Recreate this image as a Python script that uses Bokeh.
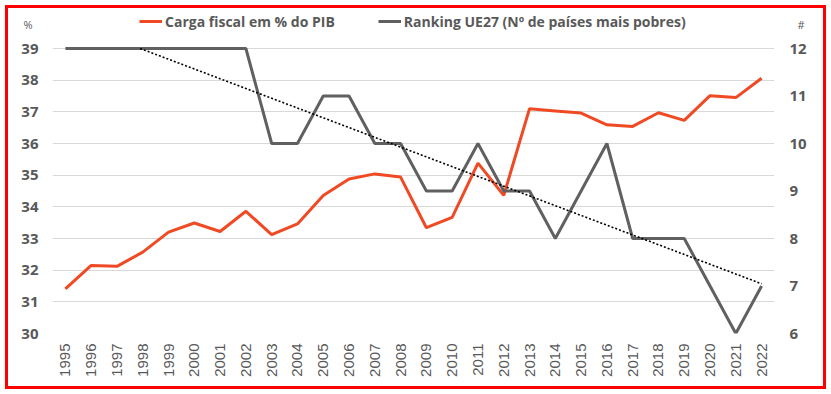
import numpy as np
from bokeh.plotting import figure
from bokeh.models import Range1d, LinearAxis, FixedTicker, Legend, LegendItem
from bokeh.embed import file_html
from bokeh.resources import INLINE

years = list(range(1995, 2023))
carga = [31.41, 32.15, 32.12, 32.57, 33.20, 33.49, 33.22, 33.86, 33.12, 33.46,
         34.36, 34.88, 35.04, 34.94, 33.34, 33.67, 35.38, 34.36, 37.10, 37.03,
         36.96, 36.59, 36.54, 36.97, 36.73, 37.51, 37.45, 38.06]
ranking = [12, 12, 12, 12, 12, 12, 12, 12, 10, 10, 11, 11, 10, 10, 9, 9, 10, 9,
           9, 8, 9, 10, 8, 8, 8, 7, 6, 7]
left_ticks = list(range(30, 40))
right_ticks = list(range(6, 13))
left_unit = "%"
right_unit = "#"
series_names = ["Carga fiscal em % do PIB", "Ranking UE27 (Nº de países mais pobres)"]

RED = "#F04A25"
GRAY = "#606060"
TXT = "#595959"

W, H = 831, 394
FL, FR, FT, FB = 52, 774, 9, 333      # frame edges (px)
AX_TOP = 48                           # pixel of the top tick (39 / 12)
UNIT_Y = 24                           # pixel row of the unit labels

# extend the value ranges above the top tick so that the legend fits in the frame
lpp = (left_ticks[-1] - left_ticks[0]) / (FB - AX_TOP)
rpp = (right_ticks[-1] - right_ticks[0]) / (FB - AX_TOP)
left_top = left_ticks[-1] + (AX_TOP - FT) * lpp
right_top = right_ticks[-1] + (AX_TOP - FT) * rpp
unit_left_pos = left_ticks[-1] + (AX_TOP - UNIT_Y) * lpp
unit_right_pos = right_ticks[-1] + (AX_TOP - UNIT_Y) * rpp

p = figure(width=W, height=H, output_backend="svg", toolbar_location=None,
           x_range=Range1d(years[0] - 0.5, years[-1] + 0.5),
           y_range=Range1d(left_ticks[0], left_top),
           min_border_left=FL, min_border_right=W - FR, min_border_top=FT,
           min_border_bottom=H - FB)
p.extra_y_ranges = {"rank": Range1d(right_ticks[0], right_top)}
p.outline_line_color = None
p.background_fill_color = "white"
p.border_fill_color = None
p.styles = {"outline": "3px solid #FF0000", "outline-offset": "-8px"}

# grid
p.xgrid.visible = False
p.ygrid.ticker = FixedTicker(ticks=left_ticks)
p.ygrid.grid_line_color = "#D9D9D9"
p.ygrid.grid_line_width = 1

def style_axis(ax, standoff, font, size, bold):
    ax.axis_line_color = None
    ax.major_tick_line_color = None
    ax.minor_tick_line_color = None
    ax.major_tick_out = 0
    ax.major_tick_in = 0
    ax.minor_tick_out = 0
    ax.minor_tick_in = 0
    ax.major_label_standoff = standoff
    ax.major_label_text_font = font
    ax.major_label_text_font_size = size
    ax.major_label_text_font_style = "bold" if bold else "normal"
    ax.major_label_text_color = TXT

ya = p.yaxis[0]
ya.ticker = FixedTicker(ticks=left_ticks)
style_axis(ya, 14, "Open Sans", "15px", True)

ra = LinearAxis(y_range_name="rank", ticker=FixedTicker(ticks=right_ticks))
style_axis(ra, 15, "Open Sans", "15px", True)
p.add_layout(ra, "right")

# unit labels "%" and "#" above the value axes
ua = LinearAxis(ticker=FixedTicker(ticks=[unit_left_pos]),
                major_label_overrides={unit_left_pos: left_unit})
style_axis(ua, -14, "Open Sans", "11px", False)
p.add_layout(ua, "left")

ub = LinearAxis(y_range_name="rank", ticker=FixedTicker(ticks=[unit_right_pos]),
                major_label_overrides={unit_right_pos: right_unit})
style_axis(ub, -12, "Open Sans", "11px", False)
p.add_layout(ub, "right")

xa = p.xaxis[0]
xa.ticker = FixedTicker(ticks=years)
xa.major_label_orientation = np.pi / 2
style_axis(xa, 10, "Liberation Sans", "15px", False)

r1 = p.line(years, carga, line_color=RED, line_width=3)
r2 = p.line(years, ranking, line_color=GRAY, line_width=3, y_range_name="rank")

# linear trend of the ranking, shown only inside the axis maximum (as in Excel)
slope, intercept = np.polyfit(years, ranking, 1)
x_start = max(years[0], (right_ticks[-1] - intercept) / slope)
tx = [x_start, years[-1]]
ty = [slope * x + intercept for x in tx]
p.line(tx, ty, line_color="black", line_width=1.6, line_dash="2 2", y_range_name="rank")

legend = Legend(items=[LegendItem(label=series_names[0], renderers=[r1]),
                       LegendItem(label=series_names[1], renderers=[r2])],
                orientation="horizontal", location=(87, (FB - 19) - 12))
legend.label_text_font = "Open Sans"
legend.label_text_font_style = "bold"
legend.label_text_font_size = "14px"
legend.label_text_color = TXT
legend.glyph_width = 23
legend.label_standoff = 3
legend.spacing = 43
legend.border_line_color = None
legend.background_fill_alpha = 0
legend.padding = 2
legend.margin = 0
p.add_layout(legend)

open("out.html", "w").write(file_html(p, INLINE))
